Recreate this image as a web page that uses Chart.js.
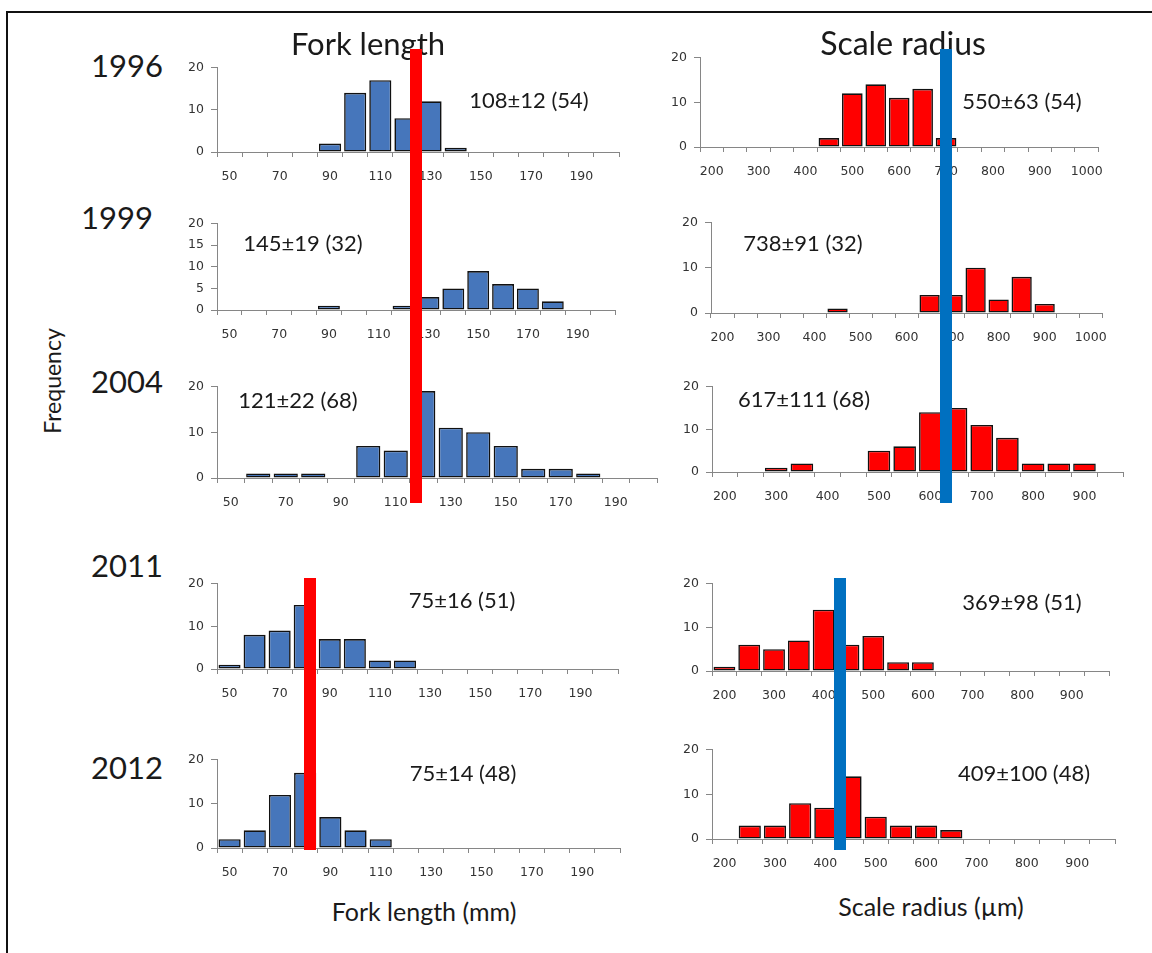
<!DOCTYPE html>
<html>
<head>
<meta charset="utf-8">
<title>Fork length and scale radius by year</title>
<script src="https://cdn.jsdelivr.net/npm/chart.js@4/dist/chart.umd.min.js"></script>
<style>
  html, body { margin: 0; padding: 0; background: #fff; }
  body { position: relative; width: 1152px; height: 953px; overflow: hidden; }
  .frame { position: absolute; left: 6px; top: 11px; width: 1200px; height: 1000px;
           border-left: 2px solid #111; border-top: 2px solid #111; }
  .txt { position: absolute; white-space: nowrap; line-height: 1; color: #1a1a1a;
         font-family: Lato, "Open Sans", sans-serif; transform: translate(-50%, -50%); z-index: 3; }
  .panel { position: absolute; z-index: 2; }
  #markers { position: absolute; left: 0; top: 0; z-index: 5; pointer-events: none; }
</style>
</head>
<body>
<div class="frame"></div>
<canvas id="markers" width="1152" height="953" style="width:1152px;height:953px"></canvas>
<script>
// ---------- data ----------
const years = ['1996', '1999', '2004', '2011', '2012'];

// fork length classes (mm)
const forkBins = ['50','60','70','80','90','100','110','120','130','140','150','160','170','180','190','200'];
// scale radius classes (µm)
const scaleBinsWide = ['200','250','300','350','400','450','500','550','600','650','700','750','800','850','900','950','1000'];
const scaleBins = ['200','250','300','350','400','450','500','550','600','650','700','750','800','850','900','950'];

const fork1996 = [0,0,0,0,2,14,17,8,12,1,0,0,0,0,0,0];
const fork1999 = [0,0,0,0,1,0,0,1,3,5,9,6,5,2,0,0];
const fork2004 = [0,1,1,1,0,7,6,19,11,10,7,2,2,1,0,0];
const fork2011 = [1,8,9,15,7,7,2,2,0,0,0,0,0,0,0,0];
const fork2012 = [2,4,12,17,7,4,2,0,0,0,0,0,0,0,0,0];

const scale1996 = [0,0,0,0,0,2,12,14,11,13,2,0,0,0,0,0,0];
const scale1999 = [0,0,0,0,0,1,0,0,0,4,4,10,3,8,2,0,0];
const scale2004 = [0,0,1,2,0,0,5,6,14,15,11,8,2,2,2,0];
const scale2011 = [1,6,5,7,14,6,8,2,2,0,0,0,0,0,0,0];
const scale2012 = [0,3,3,8,7,14,5,3,3,2,0,0,0,0,0,0];

// mean and SD per year
const forkMean = [108, 145, 121, 75, 75];
const forkSD   = [12, 19, 22, 16, 14];
const scaleMean = [550, 738, 617, 369, 409];
const scaleSD   = [63, 91, 111, 98, 100];

// ---------- layout & style ----------
const BLUE = '#4676bb', RED = '#ff0000', EDGE = '#111111';
const AXIS = '#868686', TICK = '#333333';
const TICK_FONT = { family: '"DejaVu Sans", Verdana, sans-serif', size: 12.5 };
const AXW = 44, PADT = 12, PADR = 14, XAXH = 36;

// plot boxes: left/right of category axis, top (y=20) and bottom (y=0)
const forkBoxes = [
  { L: 217, R: 619, T: 67,  B: 151, step: 10 },
  { L: 217, R: 615, T: 223, B: 309, step: 5 },
  { L: 217, R: 657, T: 386, B: 477, step: 10 },
  { L: 217, R: 618, T: 583, B: 668, step: 10 },
  { L: 217, R: 620, T: 759, B: 847, step: 10 }
];
const scaleBoxes = [
  { L: 700, R: 1098, T: 57,  B: 146, step: 10 },
  { L: 711, R: 1102, T: 222, B: 312, step: 10 },
  { L: 712, R: 1123, T: 386, B: 471, step: 10 },
  { L: 712, R: 1109, T: 583, B: 670, step: 10 },
  { L: 712, R: 1115, T: 749, B: 838, step: 10 }
];

const yearPos = [ {x: 127, y: 65}, {x: 117, y: 217}, {x: 127, y: 381}, {x: 127, y: 565}, {x: 127, y: 767} ];
const forkNotePos  = [ {x: 529, y: 100}, {x: 303, y: 243}, {x: 298, y: 400}, {x: 462, y: 600}, {x: 463, y: 773} ];
const scaleNotePos = [ {x: 1022, y: 101}, {x: 803, y: 243}, {x: 804, y: 399}, {x: 1022, y: 602}, {x: 1024, y: 773} ];

// vertical guide bars drawn across the panels (page units)
const markerLines = [
  { x: 416, y0: 49,  y1: 503, color: '#ff0000', w: 12 },
  { x: 946, y0: 49,  y1: 503, color: '#0070c0', w: 12 },
  { x: 310, y0: 578, y1: 850, color: '#ff0000', w: 12 },
  { x: 840, y0: 578, y1: 850, color: '#0070c0', w: 12 }
];

// ---------- text ----------
function addText(str, x, y, size, extra) {
  const d = document.createElement('div');
  d.className = 'txt';
  d.textContent = str;
  d.style.left = x + 'px';
  d.style.top = y + 'px';
  d.style.fontSize = size + 'px';
  if (extra) Object.assign(d.style, extra);
  document.body.appendChild(d);
}

const sum = a => a.reduce((s, v) => s + v, 0);

// ---------- panels ----------
function chartConfig(labels, values, color, step) {
  return {
    type: 'bar',
    data: {
      labels: labels,
      datasets: [{
        data: values,
        backgroundColor: color,
        borderColor: EDGE,
        borderWidth: 1.6,
        borderSkipped: false,
        barPercentage: 0.88,
        categoryPercentage: 1
      }]
    },
    options: {
      responsive: false,
      maintainAspectRatio: false,
      animation: false,
      devicePixelRatio: 1,
      layout: { padding: { top: PADT, right: PADR, left: 0, bottom: 0 } },
      plugins: { legend: { display: false }, tooltip: { enabled: false }, title: { display: false } },
      scales: {
        x: {
          type: 'category',
          offset: true,
          grid: { offset: true, drawOnChartArea: false, drawTicks: true, tickLength: 5, color: AXIS, lineWidth: 1 },
          border: { display: true, color: AXIS, width: 1 },
          ticks: {
            autoSkip: false, maxRotation: 0, minRotation: 0, padding: 12,
            color: TICK, font: TICK_FONT,
            callback: function (v, i) { return i % 2 === 0 ? this.getLabelForValue(v) : ''; }
          },
          afterFit: s => { s.height = XAXH; }
        },
        y: {
          min: 0, max: 20,
          ticks: { stepSize: step, padding: 7, color: TICK, font: TICK_FONT },
          grid: { drawOnChartArea: false, drawTicks: true, tickLength: 6, color: AXIS, lineWidth: 1 },
          border: { display: true, color: AXIS, width: 1 },
          afterFit: s => { s.width = AXW; }
        }
      }
    }
  };
}

function makeCanvas(wrap, w, h) {
  const cv = document.createElement('canvas');
  cv.width = w; cv.height = h;
  cv.style.width = w + 'px'; cv.style.height = h + 'px';
  wrap.appendChild(cv);
  return cv;
}

function buildPanel(labels, values, color, box) {
  const wrap = document.createElement('div');
  wrap.className = 'panel';
  document.body.appendChild(wrap);
  const plotW = box.R - box.L, plotH = box.B - box.T;
  let w = AXW + plotW + PADR, h = PADT + plotH + XAXH;
  let chart = new Chart(makeCanvas(wrap, w, h), chartConfig(labels, values, color, box.step));
  let a = chart.chartArea;
  const dw = Math.round(plotW - (a.right - a.left));
  const dh = Math.round(plotH - (a.bottom - a.top));
  if (dw !== 0 || dh !== 0) {
    chart.destroy();
    wrap.innerHTML = '';
    w += dw; h += dh;
    chart = new Chart(makeCanvas(wrap, w, h), chartConfig(labels, values, color, box.step));
    a = chart.chartArea;
  }
  wrap.style.left = Math.round(box.L - a.left) + 'px';
  wrap.style.top = Math.round(box.T - a.top) + 'px';
}

const forkSeries = [fork1996, fork1999, fork2004, fork2011, fork2012];
const scaleSeries = [scale1996, scale1999, scale2004, scale2011, scale2012];
const scaleLabelSets = [scaleBinsWide, scaleBinsWide, scaleBins, scaleBins, scaleBins];

forkSeries.forEach((vals, i) => buildPanel(forkBins, vals, BLUE, forkBoxes[i]));
scaleSeries.forEach((vals, i) => buildPanel(scaleLabelSets[i], vals, RED, scaleBoxes[i]));

// headings and labels
addText('Fork length', 368, 43, 31);
addText('Scale radius', 903, 43, 32);
years.forEach((y, i) => addText(y, yearPos[i].x, yearPos[i].y, 31));
forkSeries.forEach((vals, i) =>
  addText(forkMean[i] + '\u00b1' + forkSD[i] + ' (' + sum(vals) + ')', forkNotePos[i].x, forkNotePos[i].y, 22));
scaleSeries.forEach((vals, i) =>
  addText(scaleMean[i] + '\u00b1' + scaleSD[i] + ' (' + sum(vals) + ')', scaleNotePos[i].x, scaleNotePos[i].y, 22));
addText('Frequency', 52, 381, 23, { transform: 'translate(-50%, -50%) rotate(-90deg)' });
addText('Fork length (mm)', 424, 911, 25);
addText('Scale radius (\u00b5m)', 931, 906, 25);

// ---------- guide bars ----------
new Chart(document.getElementById('markers'), {
  type: 'line',
  data: {
    datasets: markerLines.map(m => ({
      data: [{ x: m.x, y: m.y0 }, { x: m.x, y: m.y1 }],
      borderColor: m.color,
      borderWidth: m.w,
      borderCapStyle: 'butt',
      pointRadius: 0,
      fill: false,
      tension: 0
    }))
  },
  options: {
    responsive: false,
    animation: false,
    devicePixelRatio: 1,
    layout: { padding: 0 },
    plugins: { legend: { display: false }, tooltip: { enabled: false } },
    scales: {
      x: { type: 'linear', min: 0, max: 1152, display: false },
      y: { type: 'linear', min: 0, max: 953, reverse: true, display: false }
    }
  }
});
</script>
</body>
</html>
